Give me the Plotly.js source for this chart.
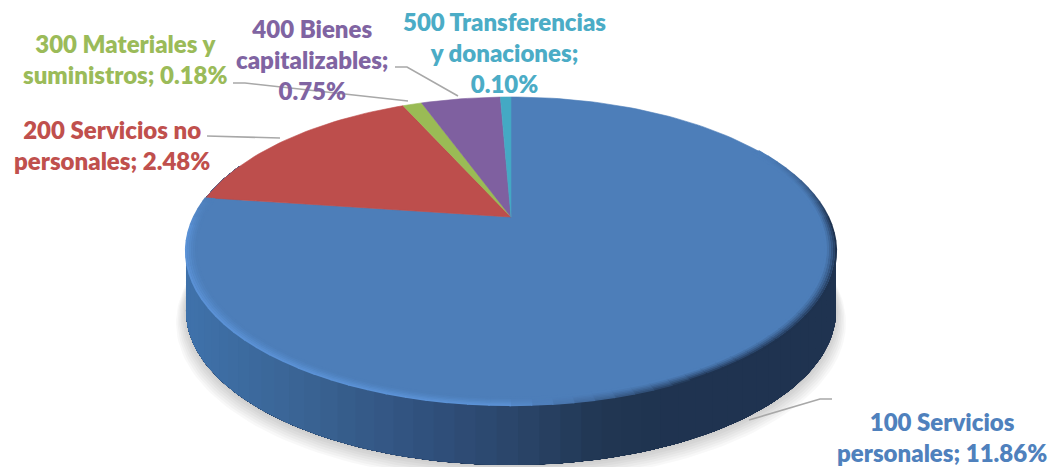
<!DOCTYPE html>
<html><head><meta charset="utf-8">
<script src="https://cdn.plot.ly/plotly-3.0.1.min.js"></script>
<style>html,body{margin:0;padding:0;background:#fff;overflow:hidden}#c{width:1057px;height:467px}</style>
</head><body><div id="c"></div>
<script>
// --- data ---
const categories = ['100 Servicios<br>personales','200 Servicios no<br>personales','300 Materiales y<br>suministros','400 Bienes<br>capitalizables','500 Transferencias<br>y donaciones'];
const values = [11.86, 2.48, 0.18, 0.75, 0.10];
const valueBreaks = [' ',' ',' ','<br>','<br>'];
const sliceColors = ['#4d7eb9','#bd4e4c','#9abb55','#7f60a0','#44a9c4'];
const labelColors = ['#4f81bd','#c0504d','#9bbb59','#8064a2','#4bacc6'];
const labelX = [942,112,125,312,504];
const labelY = [437,145,59,59,52];

// --- projection of the tilted disc (unit circle -> screen) ---
const W=1057,H=467, cx=511, cy=217, K=317, A=-98.6, C=0.2208, DEPTH=60;
const rad=d=>d*Math.PI/180;
function proj(deg,r=1,dy=0){const X=r*Math.sin(rad(deg)),Y=r*Math.cos(rad(deg)),d=1+C*Y;
  return [cx+K*X/d,(cy+A*Y)/d+dy];}
function arc(a,b,r=1,dy=0){const n=Math.max(2,Math.ceil(Math.abs(b-a)/1.5)),pts=[];
  for(let i=0;i<=n;i++)pts.push(proj(a+(b-a)*i/n,r,dy));return pts;}
const hex=h=>[1,3,5].map(i=>parseInt(h.slice(i,i+2),16));
function mix(a,b,t){t=Math.max(0,Math.min(1,t));const p=hex(a),q=hex(b);
  return 'rgb('+p.map((v,i)=>Math.round(v+(q[i]-v)*t)).join(',')+')';}
const toHex=c=>'#'+c.match(/\d+/g).map(v=>(+v).toString(16).padStart(2,'0')).join('');
const wallStops=[[185,'#3f72ab'],[300,'#3a6494'],[430,'#30507c'],[520,'#2a4468'],[600,'#213753'],[660,'#1f3350'],[840,'#1f3350']];
function wallColor(x){for(let i=1;i<wallStops.length;i++){if(x<=wallStops[i][0]){const a=wallStops[i-1],b=wallStops[i];
  return mix(a[1],b[1],(x-a[0])/(b[0]-a[0]));}}return wallStops[wallStops.length-1][1];}

function poly(pts,fill){return {type:'scatter',mode:'lines',x:pts.map(p=>p[0]),y:pts.map(p=>p[1]),fill:'toself',
  fillcolor:fill,line:{width:0.6,color:fill},hoverinfo:'skip',showlegend:false};}
function polyNoLine(pts,fill){return {type:'scatter',mode:'lines',x:pts.map(p=>p[0]),y:pts.map(p=>p[1]),fill:'toself',
  fillcolor:fill,line:{width:0},hoverinfo:'skip',showlegend:false};}
function seg(pts,color,w){return {type:'scatter',mode:'lines',x:pts.map(p=>p[0]),y:pts.map(p=>p[1]),
  line:{width:w,color,shape:'linear'},hoverinfo:'skip',showlegend:false};}

const traces=[];
// soft shadow beneath the disc
for(let i=0;i<7;i++){traces.push(polyNoLine(arc(0,360,1.002+i*0.0045,DEPTH+2+i*1.3),'rgba(0,0,0,0.028)'));}
// side wall: painted from the dark right side to the lit left side, each band covering the rest so no seams show
for(let t=68;t<292;t+=3){const top=arc(t,292),bot=arc(292,t,1,DEPTH);
  traces.push(polyNoLine(top.concat(bot),wallColor(proj(t+1.5)[0])));}
// slices, from the values, clockwise from twelve o'clock
const total=values.reduce((a,b)=>a+b,0);let start=0;
values.forEach((v,i)=>{const end=start+v/total*360;
  traces.push(poly([[cx,cy]].concat(arc(start,end),[[cx,cy]]),sliceColors[i]));start=end;});
// bevelled rim of the first slice
const firstEnd=values[0]/total*360, base=sliceColors[0];
const rings=[1,0.994,0.988,0.982,0.976,0.970];
for(let t=60;t<firstEnd;t+=3){
  const lit=Math.max(0,Math.min(1,(t-150)/30));
  const endFade=Math.max(0,Math.min(1,(firstEnd-t)/14));
  const darkFade=Math.max(0,Math.min(1,(t-60)/30));
  const edge=mix('#1f3350','#5b92d6',lit);
  rings.forEach((r,k)=>{
    const strength=(1-k/(rings.length-1))*(lit>0.5?endFade:darkFade);
    const c=mix(base,toHex(edge),Math.pow(strength,1.25));
    traces.push(seg(arc(t,Math.min(t+3.2,firstEnd),r),c,2.2));
  });
}

// --- labels ---
const annotations=categories.map((c,i)=>({x:labelX[i],y:labelY[i],xref:'x',yref:'y',showarrow:false,
  xanchor:'center',yanchor:'middle',align:'center',
  text:c+';'+valueBreaks[i]+values[i].toFixed(2)+'%',
  font:{family:'Lato, sans-serif',size:24,weight:800,color:labelColors[i]}}));

// --- leader lines ---
const leaderPaths=['M832 399 L820 399 L749 420','M207 136 L280 138','M233 83 L245 83 L408 101','M395 67 L407 67 L458 96'];
const shapes=leaderPaths.map(p=>({type:'path',path:p,xref:'x',yref:'y',line:{color:'#a8a8a8',width:1.6}}));

Plotly.newPlot('c',traces,{
  width:W,height:H,margin:{l:0,r:0,t:0,b:0},paper_bgcolor:'#fff',plot_bgcolor:'#fff',showlegend:false,
  xaxis:{range:[0,W],visible:false,fixedrange:true},
  yaxis:{range:[H,0],visible:false,fixedrange:true},
  annotations,shapes,hovermode:false
},{displayModeBar:false,staticPlot:true});
</script></body></html>
